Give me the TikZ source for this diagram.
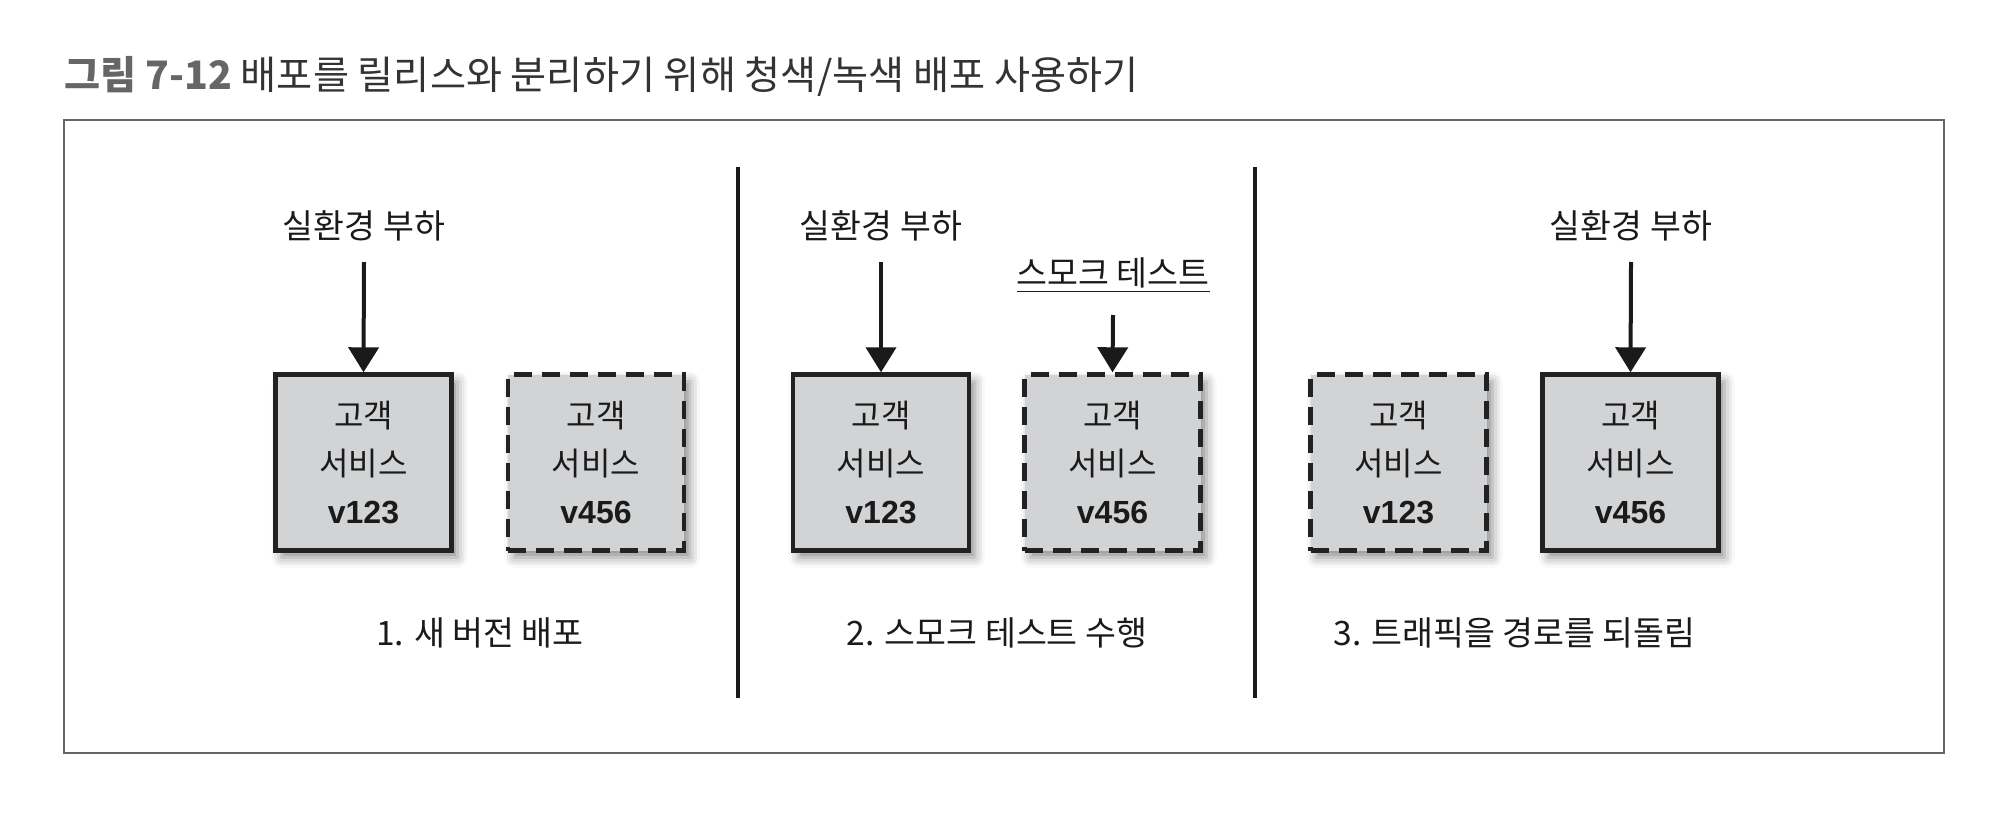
\documentclass[tikz,border=0pt]{standalone}
\usepackage{fontspec}
\setmainfont{Noto Sans CJK KR}
\newfontfamily\numfont{Liberation Sans}
\usetikzlibrary{arrows.meta,shadows.blur}
\definecolor{boxfill}{HTML}{D2D3D5}
\definecolor{boxline}{HTML}{222222}
\definecolor{txt}{HTML}{1A1A1A}
\definecolor{framecol}{HTML}{666666}
\definecolor{titlegray}{HTML}{666666}
\definecolor{titledark}{HTML}{333333}
\tikzset{
  svc/.style={draw=boxline, fill=boxfill, line width=2.2pt,
    minimum width=88pt, minimum height=88pt, inner sep=0pt,
    align=center, text=txt, font=\fontsize{16pt}{24pt}\selectfont,
    blur shadow={shadow xshift=3pt, shadow yshift=-3.5pt,
      shadow blur radius=5pt, shadow opacity=45}},
  livebox/.style={svc},
  idlebox/.style={svc, dash pattern=on 9pt off 5pt},
  lbl/.style={text=txt, inner sep=0pt, font=\fontsize{16.8pt}{20pt}\selectfont},
  arr/.style={line width=2pt, draw=txt, -{Triangle[width=15pt,length=12.5pt]}},
  divider/.style={line width=2pt, draw=txt},
}
\newcommand{\ver}[1]{{\numfont\bfseries\fontsize{16pt}{24pt}\selectfont #1}}
\begin{document}
\begin{tikzpicture}[x=0.5pt,y=-0.5pt]
\useasboundingbox (0,0) rectangle (2016,813);
% title
\node[anchor=west, inner sep=0pt, font=\fontsize{19.6pt}{24pt}\selectfont] (title) at (64,76)
  {\textcolor{titlegray}{\bfseries 그림 7-12} \textcolor{titledark}{배포를 릴리스와 분리하기 위해 청색/녹색 배포 사용하기}};
% frame
\draw[framecol, line width=0.9pt] (64,120) rectangle (1944,753);
% dividers
\coordinate (d1t) at (738,167); \coordinate (d1b) at (738,698);
\coordinate (d2t) at (1255,167); \coordinate (d2b) at (1255,698);
\draw[divider] (d1t) -- (d1b);
\draw[divider] (d2t) -- (d2b);
% boxes
\node[livebox] (b1) at (363.5,462.5) {고객\\서비스\\\ver{v123}};
\node[idlebox] (b2) at (596,462.5) {고객\\서비스\\\ver{v456}};
\node[livebox] (b3) at (881,462.5) {고객\\서비스\\\ver{v123}};
\node[idlebox] (b4) at (1112.5,462.5) {고객\\서비스\\\ver{v456}};
\node[idlebox] (b5) at (1398.5,462.5) {고객\\서비스\\\ver{v123}};
\node[livebox] (b6) at (1630.5,462.5) {고객\\서비스\\\ver{v456}};
% top labels
\node[lbl] (l1) at (364,226) {실환경 부하};
\node[lbl] (l2) at (881,226) {실환경 부하};
\node[lbl] (l3) at (1631,226) {실환경 부하};
\node[lbl] (l4) at (1113,275) {\underline{스모크 테스트}};
% arrows
\coordinate (s1) at (364,262);
\coordinate (s2) at (881,262);
\coordinate (s3) at (1631,262);
\coordinate (s4) at (1113,315);
\draw[arr] (s1) -- (b1.north);
\draw[arr] (s2) -- (b3.north);
\draw[arr] (s3) -- (b6.north);
\draw[arr] (s4) -- (b4.north);
% captions
\node[lbl] (c1) at (480,633) {1. 새 버전 배포};
\node[lbl] (c2) at (997,633) {2. 스모크 테스트 수행};
\node[lbl] (c3) at (1514.5,633) {3. 트래픽을 경로를 되돌림};
\end{tikzpicture}
\end{document}
